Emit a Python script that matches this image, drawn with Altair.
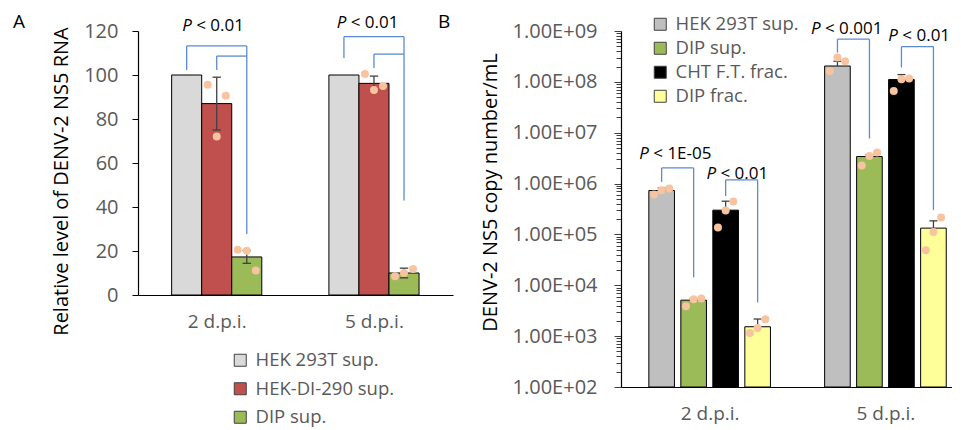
import altair as alt
import pandas as pd

FONT = "Open Sans"
days = ["2 d.p.i.", "5 d.p.i."]

# ---------------- Panel A data ----------------
a_series = ["HEK 293T sup.", "HEK-DI-290 sup.", "DIP sup."]
a_colors = ["#D9D9D9", "#C0504D", "#9BBB59"]
a_mean_2 = [100, 87.0, 17.3]
a_mean_5 = [100, 96.2, 10.0]
a_err_2 = [0, 12.0, 2.9]
a_err_5 = [0, 3.3, 2.2]
a_dots_2 = [[], [95.6, 72.0, 90.6], [20.6, 20.1, 11.1]]
a_dots_5 = [[], [100.5, 93.2, 95.0], [8.5, 10.0, 11.8]]
# (day, left series, right series, left end, top, right end)
a_brackets = [
    (0, 0, 2, 102.3, 113.2, 27.7),
    (0, 1, 2, 102.3, 108.6, 108.6),
    (1, 0, 2, 107.7, 117.4, 42.9),
    (1, 1, 2, 103.2, 109.5, 109.5),
]
a_p_labels = [(0, "< 0.01", 120.0), (1, "< 0.01", 121.4)]
a_p_left = [-1.15, -1.24]

# ---------------- Panel B data ----------------
b_series = ["HEK 293T sup.", "DIP sup.", "CHT F.T. frac.", "DIP frac."]
b_colors = ["#BFBFBF", "#9BBB59", "#000000", "#FFFF99"]
b_mean_2 = [7.3e5, 5.1e3, 3.0e5, 1.53e3]
b_mean_5 = [2.05e8, 3.4e6, 1.11e8, 1.33e5]
b_upper_2 = [8.2e5, 5.5e3, 4.5e5, 2.17e3]
b_upper_5 = [2.54e8, 3.7e6, 1.39e8, 1.85e5]
b_dots_2 = [[6.1e5, 7.4e5, 8.0e5], [3.85e3, 5.3e3, 5.5e3],
            [1.37e5, 2.97e5, 4.45e5], [1.15e3, 1.44e3, 2.14e3]]
b_dots_5 = [[1.64e8, 3.0e8, 2.54e8], [2.27e6, 3.5e6, 4.1e6],
            [6.6e7, 1.12e8, 1.16e8], [4.9e4, 1.12e5, 2.16e5]]
b_brackets = [
    (0, 0, 1, 1.08e6, 2.03e6, 1.43e4),
    (0, 2, 3, 5.7e5, 1.18e6, 4.6e3),
    (1, 0, 1, 3.77e8, 6.9e8, 7.7e6),
    (1, 2, 3, 1.91e8, 4.94e8, 3.04e5),
]
b_p_labels = [(0, "< 1E-05", 3.0e6), (0, "< 0.01", 1.25e6),
              (1, "< 0.001", 8.9e8), (1, "< 0.01", 6.3e8)]
b_p_left = [-2.2, -0.1, -2.33, 0.09]

DOT_OFFSETS = [-0.3, 0.0, 0.3]
BRACKET_COLOR = "#5B8BD0"
DOT_COLOR = "#F8C4A0"
ERR_COLOR = "#404040"


def xcenter(g, i, n, G):
    return g * G + (i - (n - 1) / 2)


def build_panel(series, colors, means, errs_lo, errs_hi, dots, brackets,
                p_labels, p_left, G, hw, base, cap, yscale, yaxis, xdomain,
                width, height, legend):
    n = len(series)
    bars, err, dts, br = [], [], [], []
    for g in range(len(days)):
        for i, s in enumerate(series):
            xc = xcenter(g, i, n, G)
            m = means[g][i]
            bars.append(dict(series=s, x=xc - hw, x2=xc + hw, v=m, base=base))
            lo, hi = errs_lo[g][i], errs_hi[g][i]
            if hi > m:
                err.append(dict(x=xc, x2=xc, y=lo, y2=hi))
                err.append(dict(x=xc - cap, x2=xc + cap, y=hi, y2=hi))
                if lo < m:
                    err.append(dict(x=xc - cap, x2=xc + cap, y=lo, y2=lo))
            for k, d in enumerate(dots[g][i]):
                dts.append(dict(x=xc + DOT_OFFSETS[k] * 2 * hw, v=d))
    for (g, li, ri, lb, top, rb) in brackets:
        xl = xcenter(g, li, n, G)
        xr = xcenter(g, ri, n, G)
        br.append(dict(x=xl, x2=xl, y=lb, y2=top))
        br.append(dict(x=xl, x2=xr, y=top, y2=top))
        br.append(dict(x=xr, x2=xr, y=top, y2=rb))
    pl = []
    for (g, txt, yv), off in zip(p_labels, p_left):
        pl.append(dict(x=g * G + off, v=yv, t=txt, p="P"))

    xs = alt.Scale(domain=xdomain, nice=False, zero=False)
    xaxis = alt.Axis(values=[g * G for g in range(len(days))],
                     labelExpr="datum.value < %f ? '%s' : '%s'" % (G / 2, days[0], days[1]),
                     ticks=False, title=None, labelFontSize=19, labelColor="#595959",
                     labelPadding=17, domainColor="#000000", domainWidth=1.2, grid=False)

    bar_layer = alt.Chart(pd.DataFrame(bars)).mark_bar(stroke="black", strokeWidth=1).encode(
        x=alt.X("x:Q", scale=xs, axis=xaxis),
        x2="x2:Q",
        y=alt.Y("v:Q", scale=yscale, axis=yaxis),
        y2="base:Q",
        color=alt.Color("series:N", scale=alt.Scale(domain=series, range=colors), legend=legend),
    )
    err_layer = alt.Chart(pd.DataFrame(err)).mark_rule(color=ERR_COLOR, strokeWidth=1.3).encode(
        x="x:Q", x2="x2:Q", y="y:Q", y2="y2:Q")
    dot_layer = alt.Chart(pd.DataFrame(dts)).mark_circle(size=64, color=DOT_COLOR, opacity=1).encode(
        x="x:Q", y="v:Q")
    br_layer = alt.Chart(pd.DataFrame(br)).mark_rule(color=BRACKET_COLOR, strokeWidth=1.3).encode(
        x="x:Q", x2="x2:Q", y="y:Q", y2="y2:Q")
    pdf = pd.DataFrame(pl)
    p_layer = alt.Chart(pdf).mark_text(font=FONT, fontSize=17, fontStyle="italic", align="left",
                                       baseline="alphabetic", color="black").encode(
        x="x:Q", y="v:Q", text="p:N")
    t_layer = alt.Chart(pdf).mark_text(font=FONT, fontSize=17, align="left", dx=14,
                                       baseline="alphabetic", color="black").encode(
        x="x:Q", y="v:Q", text="t:N")
    return alt.layer(bar_layer, err_layer, br_layer, dot_layer, p_layer, t_layer).properties(
        width=width, height=height)


# ---- Panel A ----
G_A = 157 / 30
yaxis_a = alt.Axis(values=[0, 20, 40, 60, 80, 100, 120], title="Relative level of DENV-2 NS5 RNA",
                   tickSize=6, tickColor="black", domainColor="black", domainWidth=1.2,
                   labelFontSize=20, labelColor="#595959", labelPadding=14,
                   titleFontSize=20, titleFontWeight="normal", titleColor="black", titlePadding=12,
                   titleY=150, grid=False)
legend_a = alt.Legend(orient="none", legendX=93, legendY=320, title=None, symbolType="square",
                      symbolSize=144, symbolStrokeColor="#404040", symbolStrokeWidth=1,
                      labelFont=FONT, labelFontSize=18.5, labelColor="#595959",
                      rowPadding=9.5, labelOffset=6)
panel_a = build_panel(
    a_series, a_colors, [a_mean_2, a_mean_5],
    [[m - e for m, e in zip(a_mean_2, a_err_2)], [m - e for m, e in zip(a_mean_5, a_err_5)]],
    [[m + e for m, e in zip(a_mean_2, a_err_2)], [m + e for m, e in zip(a_mean_5, a_err_5)]],
    [a_dots_2, a_dots_5], a_brackets, a_p_labels, a_p_left, G_A, 0.5, 0, 0.14,
    alt.Scale(domain=[0, 120], nice=False), yaxis_a, [-2.62, G_A + 2.63], 315, 264, legend_a)

letter_a = alt.Chart(pd.DataFrame({"t": ["A"]})).mark_text(
    font=FONT, fontSize=19, align="left", baseline="alphabetic", color="black").encode(
    x=alt.value(-125), y=alt.value(-3.5), text="t:N")
letter_b = alt.Chart(pd.DataFrame({"t": ["B"]})).mark_text(
    font=FONT, fontSize=19, align="left", baseline="alphabetic", color="black").encode(
    x=alt.value(300), y=alt.value(-3.5), text="t:N")
panel_a = alt.layer(panel_a, letter_a, letter_b)

# ---- Panel B ----
G_B = 175.8 / 32
b_tick_vals = [m * 10 ** k for k in range(2, 9) for m in range(1, 10)] + [10 ** 9]
is_major = "abs(log(datum.value)/LN10 - round(log(datum.value)/LN10)) < 1e-6"
yaxis_b = alt.Axis(values=b_tick_vals, title="DENV-2 NS5 copy number/mL",
                   labelExpr="%s ? '1.00E+0' + round(log(datum.value)/LN10) : ''" % is_major,
                   tickSize={"condition": {"test": is_major, "value": 7}, "value": 5},
                   tickColor="#404040", domainColor="black", domainWidth=1.2,
                   labelFontSize=20, labelColor="#595959", labelPadding=17,
                   titleFontSize=20, titleFontWeight="normal", titleColor="black", titlePadding=12,
                   titleY=161, grid=False)
legend_b = alt.Legend(orient="none", legendX=30, legendY=-16, title=None, symbolType="square",
                      symbolSize=144, symbolStrokeColor="#404040", symbolStrokeWidth=1,
                      labelFont=FONT, labelFontSize=18.5, labelColor="#595959",
                      rowPadding=5, labelOffset=6)
panel_b = build_panel(
    b_series, b_colors, [b_mean_2, b_mean_5], [b_mean_2, b_mean_5], [b_upper_2, b_upper_5],
    [b_dots_2, b_dots_5], b_brackets, b_p_labels, b_p_left, G_B, 0.4, 100, 0.125,
    alt.Scale(type="log", domain=[100, 1e9], nice=False), yaxis_b, [-2.77, G_B + 2.08],
    331, 356, legend_b)

chart = alt.hconcat(panel_a, panel_b, spacing=27).resolve_scale(
    color="independent", x="independent", y="independent"
).properties(padding={"left": 5, "top": 4, "right": 0, "bottom": 0}).configure_view(
    stroke=None
).configure_axis(labelFont=FONT, titleFont=FONT)

chart.save("out.html", embed_options={"renderer": "svg", "actions": False})
